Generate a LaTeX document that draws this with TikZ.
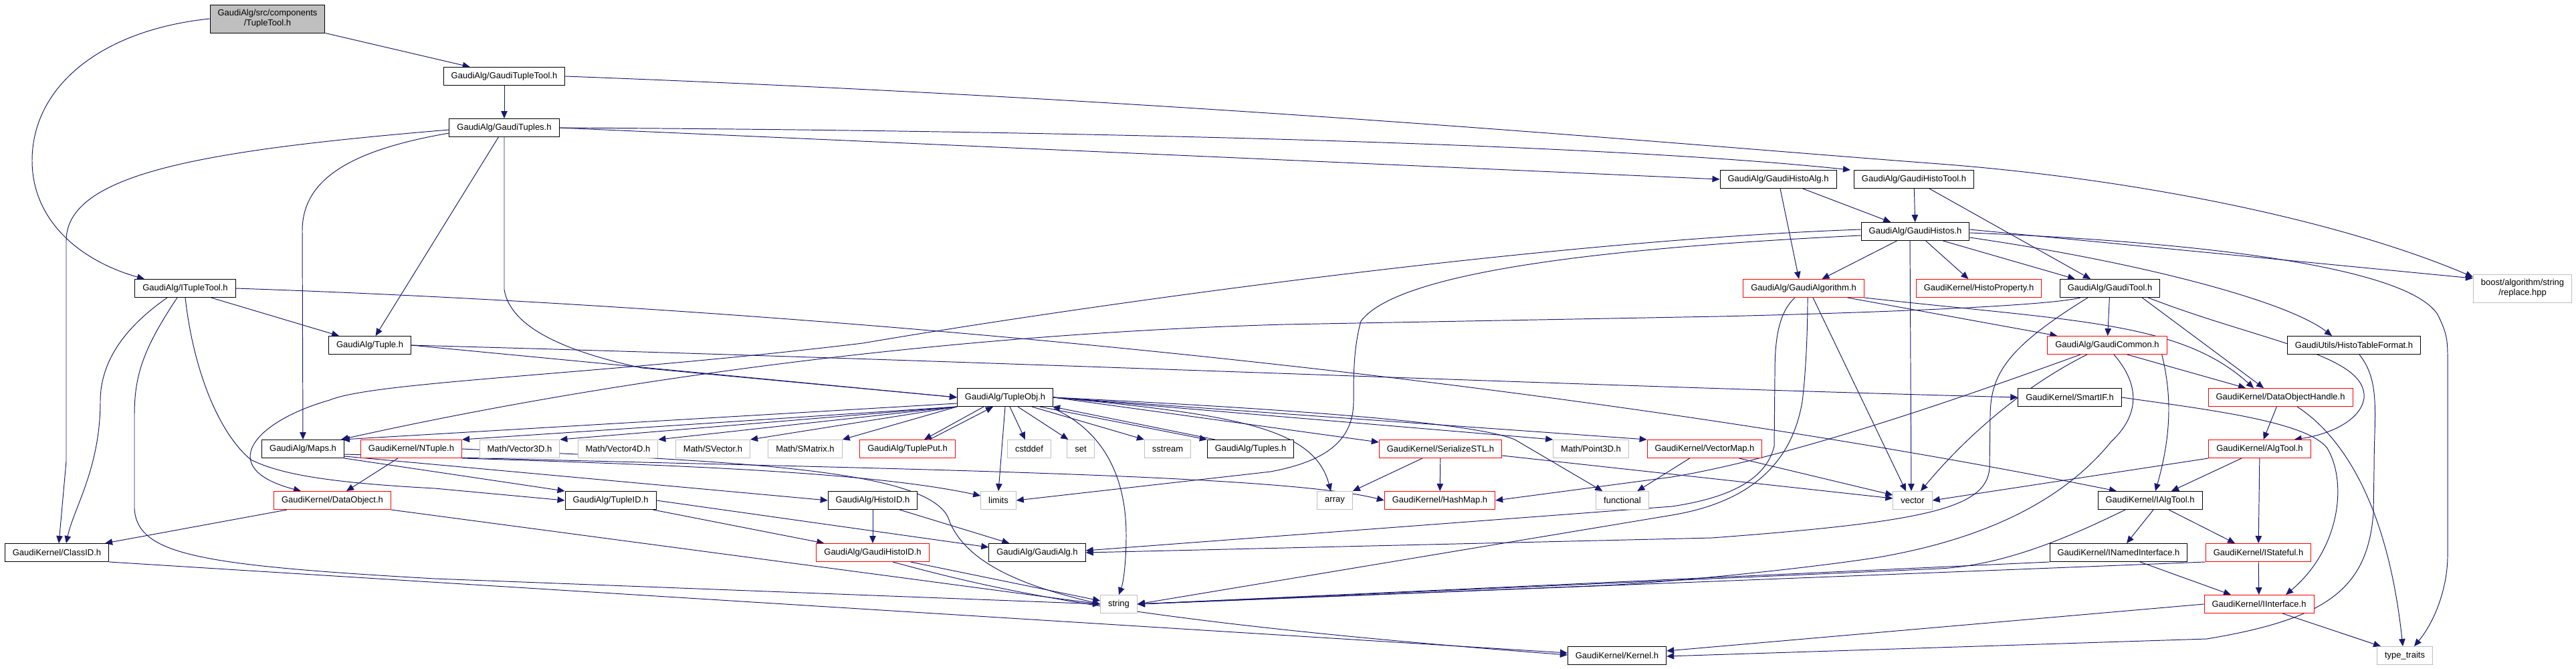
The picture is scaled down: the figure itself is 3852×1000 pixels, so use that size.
\documentclass[tikz,border=0pt]{standalone}
\usepackage{fontspec}
\setmainfont{Liberation Sans}
\usetikzlibrary{arrows.meta,calc,backgrounds}
\definecolor{edgeblue}{HTML}{191970}
\definecolor{sysgray}{HTML}{BFBFBF}
\definecolor{hfred}{HTML}{FF0000}
\begin{document}
\begin{tikzpicture}[x=0.02cm, y=-0.02cm,
  hf/.style={draw=black, fill=white, line width=0.55pt, minimum height=0.54cm, inner xsep=0.23cm, inner ysep=0pt, font=\fontsize{7.4}{8.5}\selectfont},
  hfr/.style={hf, draw=hfred},
  hfs/.style={hf, draw=sysgray},
  two/.style={minimum height=0.84cm, align=center},
  inc/.style={draw=edgeblue, line width=0.55pt, -{Triangle[length=0.22cm,width=0.19cm]}}]
  \useasboundingbox (0,0) rectangle (3852,1000);
  \node[hf, two, fill=sysgray] (tt) at (400,28) {GaudiAlg/src/components\\/TupleTool.h};
  \node[hf] (gtt) at (754,114) {GaudiAlg/GaudiTupleTool.h};
  \node[hf] (gts) at (754,191) {GaudiAlg/GaudiTuples.h};
  \node[hf] (halg) at (2659,268) {GaudiAlg/GaudiHistoAlg.h};
  \node[hf] (htool) at (2862,268) {GaudiAlg/GaudiHistoTool.h};
  \node[hf] (histos) at (2864,346) {GaudiAlg/GaudiHistos.h};
  \node[hfr] (galgo) at (2697,431) {GaudiAlg/GaudiAlgorithm.h};
  \node[hfr] (hprop) at (2959,431) {GaudiKernel/HistoProperty.h};
  \node[hf] (gtool) at (3155,431) {GaudiAlg/GaudiTool.h};
  \node[hfs, two] (boost) at (3772,431) {boost/algorithm/string\\/replace.hpp};
  \node[hf] (itt) at (277,431) {GaudiAlg/ITupleTool.h};
  \node[hf] (tuple) at (553,516) {GaudiAlg/Tuple.h};
  \node[hfr] (gcommon) at (3151,516) {GaudiAlg/GaudiCommon.h};
  \node[hf] (htf) at (3520,516) {GaudiUtils/HistoTableFormat.h};
  \node[hf] (tobj) at (1503,594) {GaudiAlg/TupleObj.h};
  \node[hf] (smartif) at (3095,594) {GaudiKernel/SmartIF.h};
  \node[hfr] (doh) at (3410,594) {GaudiKernel/DataObjectHandle.h};
  \node[hf] (maps) at (453,671) {GaudiAlg/Maps.h};
  \node[hfr] (ntuple) at (615,671) {GaudiKernel/NTuple.h};
  \node[hfs] (vec3) at (777,671) {Math/Vector3D.h};
  \node[hfs] (vec4) at (924,671) {Math/Vector4D.h};
  \node[hfs] (svec) at (1066,671) {Math/SVector.h};
  \node[hfs] (smat) at (1204,671) {Math/SMatrix.h};
  \node[hfr] (tput) at (1357,671) {GaudiAlg/TuplePut.h};
  \node[hfs] (cstddef) at (1539,671) {cstddef};
  \node[hfs] (set) at (1616,671) {set};
  \node[hfs] (sstream) at (1746,671) {sstream};
  \node[hf] (tuples) at (1870,671) {GaudiAlg/Tuples.h};
  \node[hfr] (serial) at (2154,671) {GaudiKernel/SerializeSTL.h};
  \node[hfs] (point) at (2379,671) {Math/Point3D.h};
  \node[hfr] (vmap) at (2549,671) {GaudiKernel/VectorMap.h};
  \node[hfr] (algtool) at (3379,671) {GaudiKernel/AlgTool.h};
  \node[hfr] (dobj) at (497,748) {GaudiKernel/DataObject.h};
  \node[hf] (tid) at (913,748) {GaudiAlg/TupleID.h};
  \node[hf] (hid) at (1305,748) {GaudiAlg/HistoID.h};
  \node[hfs] (limits) at (1493,748) {limits};
  \node[hfs] (array) at (1996,748) {array};
  \node[hfr] (hashmap) at (2153,748) {GaudiKernel/HashMap.h};
  \node[hfs] (functional) at (2426,748) {functional};
  \node[hfs] (vector) at (2860,748) {vector};
  \node[hf] (ialgtool) at (3215,748) {GaudiKernel/IAlgTool.h};
  \node[hf] (classid) at (85,826) {GaudiKernel/ClassID.h};
  \node[hfr] (ghid) at (1305,826) {GaudiAlg/GaudiHistoID.h};
  \node[hf] (galg) at (1551,826) {GaudiAlg/GaudiAlg.h};
  \node[hf] (inamed) at (3168,826) {GaudiKernel/INamedInterface.h};
  \node[hfr] (istate) at (3377,826) {GaudiKernel/IStateful.h};
  \node[hfs] (string) at (1673,903) {string};
  \node[hfr] (iiface) at (3378,903) {GaudiKernel/IInterface.h};
  \node[hf] (kernel) at (2418,980) {GaudiKernel/Kernel.h};
  \node[hfs] (ttraits) at (3596,980) {type\_traits};
  \begin{pgfonlayer}{background}
  \foreach \s/\t in {gtt/gts, halg/histos, htool/histos, histos/galgo, histos/hprop, gtool/gcommon, doh/algtool, algtool/istate, istate/iiface, hid/ghid, serial/hashmap, vmap/functional, gts/tuple}
    \draw[inc] (\s) -- (\t);
  \foreach \t in {ntuple,vec3,vec4,svec,smat}
    \draw[inc] (tobj.south west) -- (\t.north east);
  \foreach \t in {point,vmap}
    \draw[inc] (tobj.east) -- (\t.north west);
  \draw[inc] (tt.west) .. controls (150,45) and (48,130) .. (48,240) .. controls (48,330) and (120,390) .. ($(itt.north)+(-61,0)$);
  \draw[inc] (tt.south east) -- ($(gtt.north west)+(40,0)$);
  \draw[inc] (gtt.east) .. controls (1800,150) and (2500,215) .. (2900,245) .. controls (3200,268) and (3500,330) .. ($(boost.west)+(0,-17)$);
  \draw[inc] (gts.east) -- (halg.west);
  \draw[inc] (gts.east) .. controls (1600,195) and (2400,215) .. ($(htool.north west)+(-5,0)$);
  \draw[inc] ($(gts.west)+(0,3)$) .. controls (300,225) and (99,260) .. (99,360) -- (99,690) -- ($(classid.north)+(3,0)$);
  \draw[inc] ($(gts.west)+(0,8)$) .. controls (520,225) and (452,270) .. (452,345) -- (maps.north);
  \draw[inc] (gts.south) -- (754,433) .. controls (762,480) and (820,520) .. (960,550) -- (tobj.west);
  \draw[inc] (itt.east) .. controls (1200,460) and (2300,560) .. ($(ialgtool.north)+(-50,0)$);
  \draw[inc] ($(itt.south)+(-27,0)$) .. controls (200,480) and (150,530) .. (150,600) .. controls (150,700) and (110,760) .. ($(classid.north)+(14,0)$);
  \draw[inc] ($(itt.south)+(-12,0)$) .. controls (215,520) and (201,560) .. (201,620) -- (201,760) .. controls (205,830) and (300,845) .. (650,865) -- (string.west);
  \draw[inc] (itt.south) .. controls (290,560) and (330,650) .. (375,687) .. controls (420,710) and (500,722) .. (650,730) -- (tid.west);
  \draw[inc] ($(itt.south east)+(-37,0)$) -- ($(tuple.north west)+(16,0)$);
  \draw[inc] (tuple.east) -- (tobj.west);
  \draw[inc] (tuple.east) .. controls (1500,540) and (2300,575) .. (smartif.west);
  \draw[inc] ($(halg.south)+(3,0)$) -- ($(galgo.north)+(-7,0)$);
  \draw[inc] ($(htool.south)+(23,0)$) -- ($(gtool.north)+(-29,0)$);
  \draw[inc] ($(histos.south east)+(-40,0)$) -- ($(gtool.north)+(-52,0)$);
  \draw[inc] ($(histos.south)+(-8,0)$) -- ($(vector.north)+(-2,0)$);
  \draw[inc] ($(histos.east)+(0,-3)$) -- ($(boost.west)+(0,-15)$);
  \draw[inc] ($(histos.east)+(0,2)$) .. controls (3300,362) and (3600,400) .. (3645,470) .. controls (3660,500) and (3660,510) .. (3660,540) -- (3660,830) .. controls (3660,880) and (3640,930) .. ($(ttraits.north)+(14,0)$);
  \draw[inc] ($(histos.east)+(0,9)$) .. controls (3200,392) and (3420,450) .. ($(htf.north)+(-33,0)$);
  \draw[inc] ($(histos.west)+(0,6)$) .. controls (2300,375) and (2080,420) .. (2035,480) .. controls (2024,520) and (2024,560) .. (2024,600) .. controls (2024,660) and (1980,690) .. (1900,705) -- (limits.east);
  \draw[inc] ($(histos.west)+(0,-3)$) .. controls (2300,360) and (1600,460) .. (1290,513) .. controls (900,560) and (560,570) .. (493,598) .. controls (380,630) and (320,700) .. ($(dobj.north)+(-47,0)$);
  \draw[inc] ($(gtool.south)+(-33,0)$) .. controls (3000,520) and (2977,560) .. (2976,620) -- (2975,700) .. controls (2970,760) and (2880,780) .. (2560,804) -- (galg.east);
  \draw[inc] ($(gtool.south)+(-44,0)$) .. controls (3050,460) and (2700,470) .. (2570,473) -- (1920,485) .. controls (1400,500) and (900,570) .. ($(maps.north east)+(-5,0)$);
  \draw[inc] ($(gtool.south east)+(-27,0)$) -- ($(doh.north)+(-25,0)$);
  \draw[inc] ($(gtool.south east)+(-18,0)$) .. controls (3380,510) and (3540,530) .. (3535,595) .. controls (3530,630) and (3480,650) .. ($(algtool.north east)+(-25,0)$);
  \draw[inc] ($(galgo.south)+(-13,0)$) .. controls (2656,470) and (2654,520) .. (2654,560) -- (2653,667) .. controls (2640,720) and (2580,745) .. (2500,757) -- ($(galg.east)+(0,-3)$);
  \draw[inc] ($(galgo.south)+(6,0)$) .. controls (2703,500) and (2700,560) .. (2695,600) .. controls (2680,690) and (2620,750) .. (2500,770) -- (string.east);
  \draw[inc] ($(galgo.south)+(14,0)$) -- ($(vector.north)+(-10,0)$);
  \draw[inc] ($(galgo.south east)+(-25,0)$) -- ($(gcommon.north west)+(15,0)$);
  \draw[inc] (galgo.south east) .. controls (3100,480) and (3260,480) .. ($(doh.north)+(-40,0)$);
  \draw[inc] ($(gcommon.south east)+(-60,0)$) -- ($(doh.north)+(-52,0)$);
  \draw[inc] ($(gcommon.south east)+(-8,0)$) .. controls (3245,580) and (3250,640) .. ($(ialgtool.north)+(8,0)$);
  \draw[inc] ($(gcommon.south)+(10,0)$) .. controls (3200,575) and (3200,620) .. (3157,660) .. controls (3100,730) and (3000,800) .. (2809,833) .. controls (2700,850) and (2500,870) .. (2400,875) -- (string.east);
  \draw[inc] ($(gcommon.south)+(-40,0)$) .. controls (3000,570) and (2700,680) .. (2500,713) -- (hashmap.east);
  \draw[inc] ($(gcommon.south)+(-30,0)$) .. controls (3040,570) and (2950,640) .. ($(vector.north)+(12,0)$);
  \draw[inc] (smartif.east) .. controls (3300,612) and (3450,630) .. (3480,670) .. controls (3510,720) and (3500,820) .. ($(iiface.north)+(40,0)$);
  \draw[inc] ($(doh.south)+(25,0)$) .. controls (3500,650) and (3570,750) .. ($(ttraits.north)+(-3,0)$);
  \draw[inc] ($(algtool.south)+(-27,0)$) -- ($(ialgtool.north)+(32,0)$);
  \draw[inc] (algtool.south west) -- (vector.east);
  \draw[inc] ($(ialgtool.south)+(28,0)$) -- ($(istate.north)+(-35,0)$);
  \draw[inc] ($(ialgtool.south)+(5,0)$) -- ($(inamed.north)+(12,0)$);
  \draw[inc] ($(ialgtool.south)+(-37,0)$) .. controls (3100,800) and (3000,845) .. (2900,850) -- (string.east);
  \draw[inc] ($(inamed.south)+(32,0)$) -- ($(iiface.north)+(-42,0)$);
  \draw[inc] (inamed.south west) -- (string.east);
  \draw[inc] (istate.south west) -- (string.east);
  \draw[inc] ($(iiface.south)+(35,0)$) -- ($(ttraits.north west)+(6,0)$);
  \draw[inc] (iiface.west) -- ($(kernel.east)+(0,-7)$);
  \draw[inc] ($(htf.south)+(8,0)$) .. controls (3560,570) and (3550,620) .. (3550,700) -- (3549,767) .. controls (3540,880) and (3480,925) .. (3300,955) -- ($(kernel.east)+(0,1)$);
  \draw[inc] ($(vmap.south east)+(-35,0)$) -- ($(vector.west)+(0,-8)$);
  \draw[inc] ($(serial.south)+(-27,0)$) -- (array.north east);
  \draw[inc] ($(serial.east)+(0,10)$) -- ($(vector.west)+(0,-3)$);
  \draw[inc] ($(tobj.south west)+(0,-5)$) -- ($(maps.north east)+(-3,0)$);
  \draw[inc] ($(tobj.south)+(-32,0)$) -- ($(tput.north)+(25,0)$);
  \draw[inc] ($(tput.north)+(33,0)$) -- ($(tobj.south)+(-18,0)$);
  \draw[inc] (tobj.south) -- (limits.north);
  \draw[inc] ($(tobj.south)+(7,0)$) -- ($(cstddef.north)+(-6,0)$);
  \draw[inc] ($(tobj.south)+(19,0)$) -- ($(set.north west)+(2,0)$);
  \draw[inc] ($(tobj.south)+(40,0)$) -- (sstream.north west);
  \draw[inc] ($(tobj.south east)+(-20,0)$) -- (tuples.north west);
  \draw[inc] ($(tuples.north west)+(12,0)$) -- ($(tobj.south east)+(-1,0)$);
  \draw[inc] ($(tobj.south east)+(1,3)$) .. controls (1640,640) and (1684,700) .. (1684,800) .. controls (1684,840) and (1680,870) .. (string.north);
  \draw[inc] (tobj.east) -- ($(serial.west)+(0,-10)$);
  \draw[inc] (tobj.east) .. controls (1900,610) and (2200,630) .. (2265,657) -- ($(functional.north west)+(10,0)$);
  \draw[inc] (tobj.east) .. controls (1850,620) and (1965,640) .. ($(array.north)+(-6,0)$);
  \draw[inc] (maps.south east) -- (tid.north west);
  \draw[inc] ($(maps.south east)+(0,-3)$) -- (hid.west);
  \draw[inc] ($(maps.south east)+(0,-6)$) .. controls (1200,700) and (1900,705) .. (hashmap.west);
  \draw[inc] ($(ntuple.south)+(-20,0)$) -- ($(dobj.north)+(21,0)$);
  \draw[inc] (ntuple.south east) .. controls (1000,695) and (1300,705) .. ($(limits.west)+(0,-7)$);
  \draw[inc] (ntuple.east) .. controls (1100,690) and (1400,700) .. (1420,780) .. controls (1450,850) and (1550,880) .. (string.west);
  \draw[inc] ($(dobj.south west)+(20,0)$) -- ($(classid.north east)+(-6,0)$);
  \draw[inc] (dobj.south east) -- (string.west);
  \draw[inc] (classid.south east) -- ($(kernel.west)+(0,-4)$);
  \draw[inc] ($(tid.south east)+(-5,0)$) -- ($(ghid.north west)+(12,0)$);
  \draw[inc] (tid.east) -- ($(galg.west)+(0,-8)$);
  \draw[inc] ($(hid.south east)+(-27,0)$) -- ($(galg.north west)+(31,0)$);
  \draw[inc] ($(ghid.south east)+(-28,0)$) -- ($(string.west)+(0,-5)$);
  \draw[inc] ($(ghid.south)+(30,0)$) .. controls (1500,885) and (1700,930) .. ($(kernel.west)+(0,-1)$);
  \end{pgfonlayer}
\end{tikzpicture}
\end{document}
